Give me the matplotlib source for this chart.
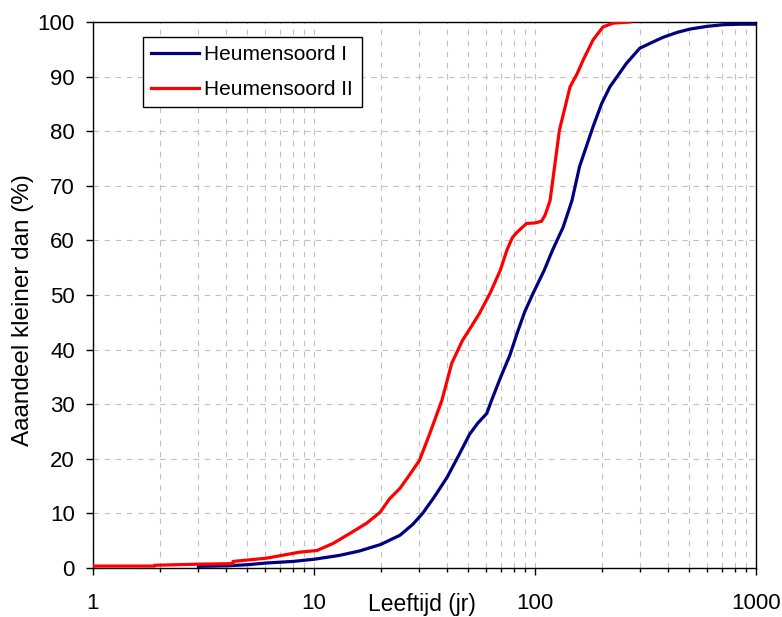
import numpy as np
import matplotlib.pyplot as plt
from matplotlib.ticker import LogLocator, NullFormatter, FixedLocator, FixedFormatter

plt.rcParams['font.family'] = ['Liberation Sans', 'DejaVu Sans']

# Heumensoord I (blauw)
leeftijd_1 = [3, 4, 5, 6, 8, 10, 13, 16, 20, 24.5, 28, 31, 35, 40, 45, 50.6, 55, 60.5,
              63.6, 70, 77, 83, 90, 98, 110, 120, 134, 147, 159, 183, 200, 218, 240,
              259, 298, 340, 380, 440, 502, 600, 708, 850, 1000]
aandeel_1 = [0.3, 0.4, 0.6, 0.9, 1.2, 1.6, 2.3, 3.1, 4.3, 6.0, 8.0, 10.0, 13.0, 16.6,
             20.5, 24.5, 26.5, 28.3, 30.7, 35.0, 39.0, 43.0, 47.0, 50.3, 54.5, 58.2,
             62.4, 67.3, 73.5, 80.8, 85.0, 88.1, 90.5, 92.4, 95.2, 96.3, 97.2, 98.1,
             98.7, 99.2, 99.5, 99.6, 99.6]

# Heumensoord II (rood)
leeftijd_2 = [1, 1.9, 1.9, 3, 4.3, 4.3, 6.1, 8.6, 10.3, 12.2, 14.5, 17.3, 19.9, 22,
              24.5, 27, 30, 33.4, 37.9, 42, 47, 52, 56, 62.6, 69.6, 74.6, 79, 83, 91.6,
              100, 107, 111, 117, 129, 144, 155, 165, 183, 203, 226, 268]
aandeel_2 = [0.35, 0.35, 0.5, 0.7, 0.8, 1.2, 1.8, 2.9, 3.2, 4.5, 6.3, 8.2, 10.2, 12.7,
             14.6, 17.0, 19.7, 24.6, 30.7, 37.5, 41.7, 44.5, 46.6, 50.3, 54.5, 58.2,
             60.5, 61.5, 63.1, 63.2, 63.5, 64.6, 67.3, 80.2, 88.1, 90.5, 93.0, 96.7,
             99.1, 99.8, 100.0]

fig = plt.figure(figsize=(7.82, 6.17), dpi=100)
ax = fig.add_axes([93/782, 49/617, 663/782, 546/617])

ax.plot(leeftijd_1, aandeel_1, color='#000080', lw=2.3, label='Heumensoord I', zorder=3)
ax.plot(leeftijd_2, aandeel_2, color='#ff0000', lw=2.3, label='Heumensoord II', zorder=4)

ax.set_xscale('log')
ax.set_xlim(1, 1000)
ax.set_ylim(0, 100)
ax.set_yticks(np.arange(0, 101, 10))
ax.xaxis.set_major_locator(FixedLocator([1, 10, 100, 1000]))
ax.xaxis.set_major_formatter(FixedFormatter(['1', '10', '100', '1000']))
ax.xaxis.set_minor_locator(LogLocator(base=10, subs=np.arange(2, 10)))
ax.xaxis.set_minor_formatter(NullFormatter())

ax.grid(True, which='both', axis='x', color='#c0c0c0', ls=(0, (5, 5)), lw=0.8)
ax.grid(True, which='major', axis='y', color='#c0c0c0', ls=(0, (5, 5)), lw=0.8)
ax.set_axisbelow(True)

ax.tick_params(axis='x', which='major', direction='out', length=5, width=1, pad=13, labelsize=16)
ax.tick_params(axis='x', which='minor', direction='out', length=3, width=1)
ax.tick_params(axis='y', direction='out', length=5, width=1, pad=8, labelsize=16)
for s in ax.spines.values():
    s.set_linewidth(1.0)

ax.set_xlabel('Leeftijd (jr)', fontsize=16.5, va='center')
ax.xaxis.set_label_coords(0.496, -0.066)
ax.set_ylabel('Aaandeel kleiner dan (%)', fontsize=17.5, va='center', ha='center')
ax.yaxis.set_label_coords(-0.106, 0.473)

leg = ax.legend(loc='upper left', bbox_to_anchor=(0.0754, 0.9725), borderaxespad=0,
                fontsize=15, handlelength=2.3, handletextpad=0.25, labelspacing=0.75,
                fancybox=False, framealpha=1, edgecolor='black', borderpad=0.4)
leg.get_frame().set_linewidth(1.0)

fig.savefig('out.png', dpi=100)
